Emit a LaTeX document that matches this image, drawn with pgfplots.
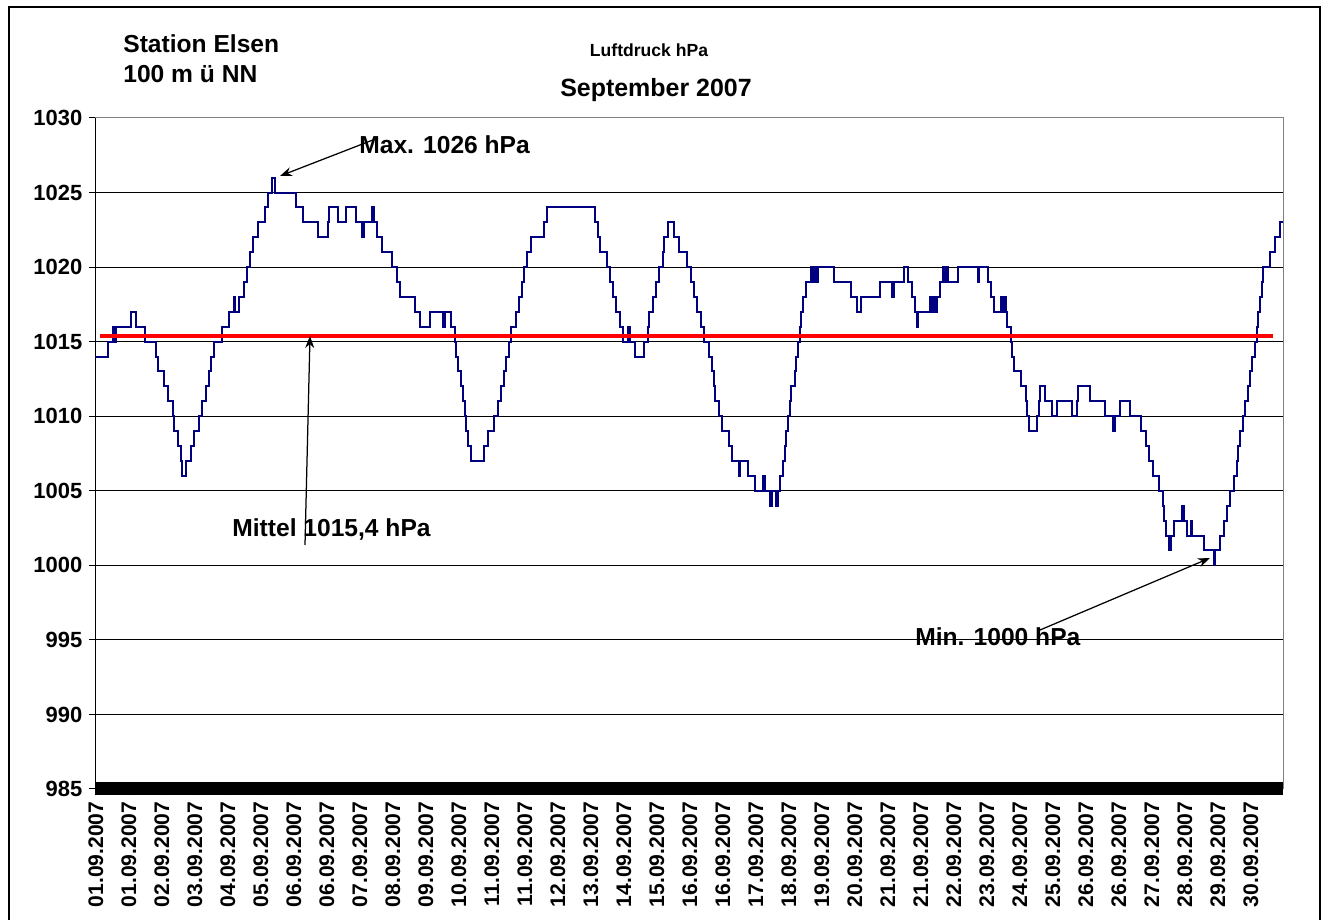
\documentclass[border=0pt]{standalone}
\usepackage{pgfplots}
\pgfplotsset{compat=1.18}
\usepackage{fontspec}
\setmainfont{Liberation Sans}
\usetikzlibrary{arrows.meta}
\definecolor{linenavy}{RGB}{0,0,128}

\begin{document}
\begin{tikzpicture}
\begin{scope}[x=0.2mm,y=0.2mm]
\useasboundingbox (0,0) rectangle (1328,919);
\draw[line width=0.4mm] (9,-10) -- (9,912) -- (1320,912) -- (1320,-10);
\end{scope}
\begin{axis}[
  at={(19mm,26mm)}, anchor=south west,
  scale only axis, width=237.6mm, height=134.2mm,
  xmin=0, xmax=720, ymin=985, ymax=1030,
  clip=false,
  axis lines*=left,
  axis line style={black, line width=0.2mm},
  ytick={985,990,...,1030},
  ymajorgrids,
  grid style={black, line width=0.2mm},
  xtick={0.5,20.5,...,700.5},
  xticklabels={01.09.2007,01.09.2007,02.09.2007,03.09.2007,04.09.2007,05.09.2007,
    06.09.2007,06.09.2007,07.09.2007,08.09.2007,09.09.2007,10.09.2007,
    11.09.2007,11.09.2007,12.09.2007,13.09.2007,14.09.2007,15.09.2007,
    16.09.2007,16.09.2007,17.09.2007,18.09.2007,19.09.2007,20.09.2007,
    21.09.2007,21.09.2007,22.09.2007,23.09.2007,24.09.2007,25.09.2007,
    26.09.2007,26.09.2007,27.09.2007,28.09.2007,29.09.2007,30.09.2007},
  tick align=outside,
  major tick length=1.3mm,
  tick style={black, line width=0.2mm},
  tick label style={font=\bfseries\fontsize{12.5}{12.5}\selectfont},
  xticklabel style={rotate=90, anchor=east, font=\bfseries\fontsize{12}{12}\selectfont},
  y tick label style={/pgf/number format/1000 sep=,
    /pgf/number format/assume math mode=true},
]
% Luftdruck, stuendlich (Stufen)
\addplot[const plot, color=linenavy, line width=0.4mm] coordinates {
(0,1014) (8,1015) (11,1016) (12,1015) (13,1016) (22,1017) (25,1016) (30,1015)
(37,1014) (38,1013) (42,1012) (44,1011) (47,1010) (48,1009) (50,1008) (52,1007)
(53,1006) (55,1007) (58,1008) (60,1009) (63,1010) (65,1011) (67,1012) (69,1013)
(70,1014) (72,1015) (77,1016) (81,1017) (84,1018) (85,1017) (87,1018) (90,1019)
(92,1020) (94,1021) (96,1022) (99,1023) (103,1024) (105,1025) (107,1026) (109,1025)
(122,1024) (126,1023) (135,1022) (141,1023) (142,1024) (147,1023) (152,1024) (158,1023)
(162,1022) (163,1023) (168,1024) (169,1023) (171,1022) (174,1021) (180,1020) (183,1019)
(185,1018) (194,1017) (197,1016) (203,1017) (211,1016) (212,1017) (216,1016) (218,1015)
(219,1014) (220,1013) (222,1012) (223,1011) (224,1010) (225,1009) (226,1008) (228,1007)
(236,1008) (238,1009) (242,1010) (244,1011) (246,1012) (248,1013) (249,1014) (251,1015)
(252,1016) (255,1017) (257,1018) (259,1019) (260,1020) (262,1021) (264,1022) (272,1023)
(274,1024) (303,1023) (305,1022) (306,1021) (310,1020) (312,1019) (314,1018) (316,1017)
(318,1016) (320,1015) (323,1016) (324,1015) (327,1014) (333,1015) (335,1016) (336,1017)
(338,1018) (340,1019) (342,1020) (344,1021) (345,1022) (347,1023) (351,1022) (354,1021)
(359,1020) (361,1019) (363,1018) (365,1017) (367,1016) (369,1015) (372,1014) (374,1013)
(375,1012) (376,1011) (378,1010) (380,1009) (384,1008) (386,1007) (390,1006) (391,1007)
(396,1006) (400,1005) (405,1006) (406,1005) (409,1004) (410,1005) (413,1004) (414,1005)
(415,1006) (417,1007) (418,1008) (419,1009) (420,1010) (421,1011) (422,1012) (424,1013)
(425,1014) (426,1015) (427,1016) (428,1017) (429,1018) (431,1019) (434,1020) (435,1019)
(436,1020) (437,1019) (438,1020) (448,1019) (458,1018) (462,1017) (464,1018) (476,1019)
(483,1018) (484,1019) (490,1020) (493,1019) (495,1018) (497,1017) (498,1016) (499,1017)
(506,1018) (507,1017) (508,1018) (509,1017) (510,1018) (512,1019) (514,1020) (515,1019)
(516,1020) (517,1019) (523,1020) (535,1019) (536,1020) (541,1019) (543,1018) (545,1017)
(549,1018) (550,1017) (551,1018) (552,1017) (553,1016) (555,1015) (556,1014) (557,1013)
(561,1012) (564,1011) (565,1010) (566,1009) (571,1010) (572,1011) (573,1012) (576,1011)
(580,1010) (583,1011) (592,1010) (595,1011) (596,1012) (603,1011) (612,1010) (617,1009)
(618,1010) (621,1011) (627,1010) (634,1009) (637,1008) (639,1007) (641,1006) (645,1005)
(647,1004) (648,1003) (649,1002) (651,1001) (652,1002) (654,1003) (659,1004) (660,1003)
(662,1002) (664,1003) (665,1002) (672,1001) (678,1000) (679,1001) (682,1002) (684,1003)
(686,1004) (688,1005) (690,1006) (692,1007) (693,1008) (694,1009) (696,1010) (697,1011)
(699,1012) (700,1013) (701,1014) (703,1015) (704,1016) (705,1017) (706,1018) (707,1019)
(708,1020) (712,1021) (715,1022) (718,1023) (720,1023)
};
% Mittelwert
\addplot[red, line width=0.8mm] coordinates {(3,1015.4) (714,1015.4)};
\draw[gray, line width=0.2mm] (rel axis cs:0,1) -- (rel axis cs:1,1) -- (rel axis cs:1,0);
\draw[black, line width=2.6mm] (axis cs:0,985) -- (axis cs:720,985);
\end{axis}
\begin{scope}[x=0.2mm,y=0.2mm, every node/.style={inner sep=0pt}]
\node[anchor=base west, font=\bfseries\fontsize{14}{14}\selectfont] at (123,866) {Station Elsen};
\node[anchor=base west, font=\bfseries\fontsize{14}{14}\selectfont] at (123,836) {100 m ü NN};
\node[anchor=base, font=\bfseries\fontsize{10}{10}\selectfont] at (649,862) {Luftdruck hPa};
\node[anchor=base, font=\bfseries\fontsize{14.2}{14.2}\selectfont] at (656,822) {September 2007};
\node[anchor=base west, font=\bfseries\fontsize{14}{14}\selectfont] at (359,765) {Max. 1026 hPa};
\node[anchor=base west, font=\bfseries\fontsize{14}{14}\selectfont] at (232,382) {Mittel 1015,4 hPa};
\node[anchor=base west, font=\bfseries\fontsize{14}{14}\selectfont] at (915,273) {Min. 1000 hPa};
\draw[line width=0.25mm, -{Stealth[length=2.4mm,width=1.8mm]}] (378,781) -- (280,743);
\draw[line width=0.25mm, -{Stealth[length=2.4mm,width=1.8mm]}] (305,374) -- (310,583);
\draw[line width=0.25mm, -{Stealth[length=2.4mm,width=1.8mm]}] (1040,289) -- (1210,361);
\end{scope}
\end{tikzpicture}
\end{document}
